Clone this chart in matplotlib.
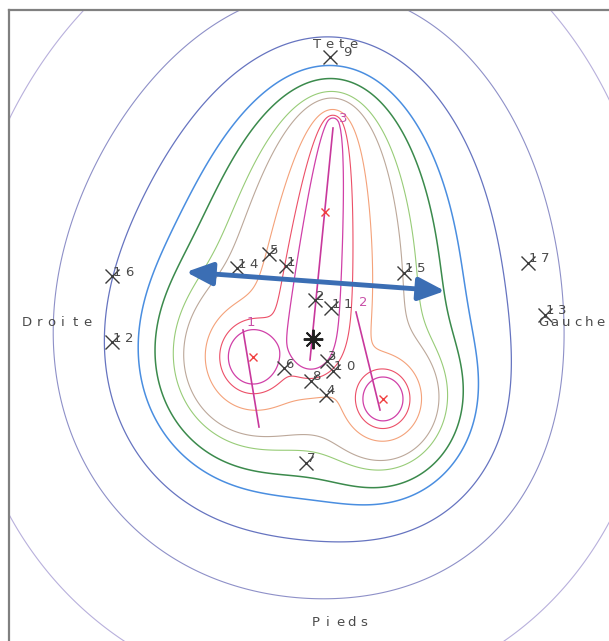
import numpy as np
import matplotlib
matplotlib.use('Agg')
import matplotlib.pyplot as plt

# electrodes (pixel coords of the scanned map)
elec_num = ['1','2','3','4','5','6','7','8','9','10','11','12','13','14','15','16','17']
elec_x = [286, 315, 327, 326, 269, 284, 306, 311, 330, 333, 331, 112, 545, 237, 404, 112, 528]
elec_y = [266, 300, 361, 395, 254, 368, 463, 381, 57, 371, 308, 342, 315, 268, 273, 276, 263]

# sources : red cross, magenta axis, label
src_name = ['1', '2', '3']
src_x = [253, 383, 325]
src_y = [357, 399, 212]
axis_x0 = [243, 356, 333]
axis_y0 = [330, 312, 128]
axis_x1 = [259, 380, 310]
axis_y1 = [427, 410, 360]
lab_x = [251, 363, 343]
lab_y = [322, 303, 119]

# fitted source model of the map
amp1, amp2 = 0.3052, 0.1493
core = 1.0
power = 3.479
kvert = 0.9138
slope3 = 1.9
seg3_top = (333, 124)
seg3_bot = (311, 350)
levels = [0.019574, 0.059738, 0.1406, 0.29726, 0.47382, 0.8806, 1.3545, 4.4387, 14.67, 40.835]
lcolors = ['#b8b0dc', '#8e90c8', '#6674c0', '#4a8ee0', '#3b8a4c', '#98cc78', '#bca89a', '#f4a27a', '#ec5068', '#d040a8']
lwidths = [0.8, 0.8, 0.9, 1.1, 1.1, 0.8, 0.8, 0.8, 0.8, 0.9]

barycentre = (313, 339)
arrow_start = (186, 272)
arrow_end = (445, 291)


def kern(dx, dy):
    return ((dx/100)**2 + (kvert*dy/100)**2 + (core/100)**2)**(-power/2)


def field(x, y):
    f = amp1*kern(x-src_x[0], y-src_y[0]) + amp2*kern(x-src_x[1], y-src_y[1])
    t = np.linspace(0, 1, 40)
    sx = seg3_top[0] + t*(seg3_bot[0]-seg3_top[0])
    sy = seg3_top[1] + t*(seg3_bot[1]-seg3_top[1])
    w = (1 + slope3*(t-0.5))/len(t)
    for i in range(len(t)):
        f = f + w[i]*kern(x-sx[i], y-sy[i])
    return f


def spaced(ax, x, y, s, color='#4a4a4a', pitch=12, size=9.5, center=True):
    # plotter-like lettering with wide pitch
    x0 = x - pitch*(len(s)-1)/2 if center else x
    for i, ch in enumerate(s):
        ax.text(x0 + i*pitch, y, ch, ha='center', va='center', fontsize=size,
                color=color, family='DejaVu Sans')


fig = plt.figure(figsize=(6.09, 6.41), dpi=100)
ax = fig.add_axes([8.5/609, 0, 1-8.5/609, 631/641])
ax.set_xlim(8.5, 609)
ax.set_ylim(641, 10)
ax.set_xticks([])
ax.set_yticks([])
for side in ['bottom', 'right']:
    ax.spines[side].set_visible(False)
for side in ['left', 'top']:
    ax.spines[side].set_color('#808080')
    ax.spines[side].set_linewidth(1.6)

X, Y = np.meshgrid(np.arange(4, 614, 1.0), np.arange(4, 646, 1.0))
F = field(X, Y)
ax.contour(X, Y, F, levels=levels, colors=lcolors, linewidths=lwidths)

for i in range(3):
    ax.plot([axis_x0[i], axis_x1[i]], [axis_y0[i], axis_y1[i]], color='#c8389c', lw=1.2)
    ax.plot(src_x[i], src_y[i], 'x', color='#f04040', ms=6, mew=1.0)
    spaced(ax, lab_x[i], lab_y[i], src_name[i], color='#c850a8', size=9.5)

for n, x, y in zip(elec_num, elec_x, elec_y):
    ax.plot(x, y, 'x', color='#3c3c3c', ms=9.5, mew=1.0)
    if n == '9':
        spaced(ax, x + 17, y - 4, n, center=False)
    else:
        spaced(ax, x + 5, y - 4, n, center=False)

ax.plot(*barycentre, marker=(8, 2, 0), color='#202020', ms=14, mew=1.4)

ax.annotate('', xy=arrow_end, xytext=arrow_start,
            arrowprops=dict(arrowstyle='<|-|>,head_length=0.8,head_width=0.35',
                            color='#3b6eb4', lw=3.5, mutation_scale=20,
                            shrinkA=0, shrinkB=0))

spaced(ax, 335, 44, 'Tete')
spaced(ax, 57, 322, 'Droite')
spaced(ax, 543, 322, 'Gauche', pitch=11.5, center=False)
spaced(ax, 340, 623, 'Pieds')

fig.savefig('out.png')
